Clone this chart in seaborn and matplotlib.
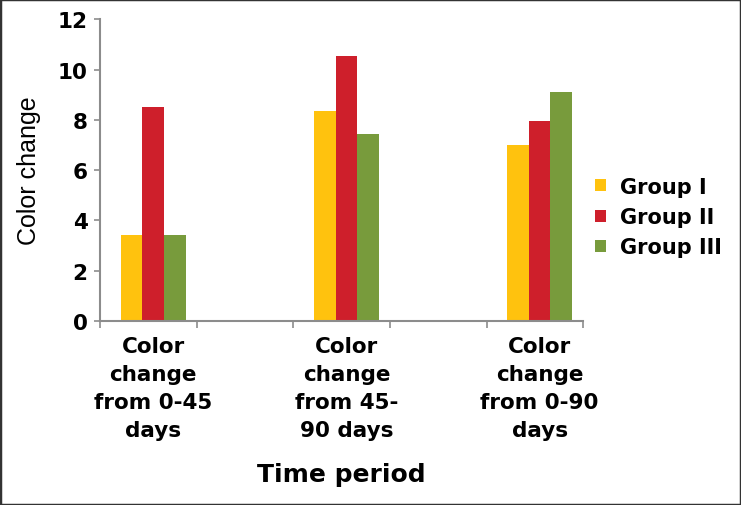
import numpy as np
import pandas as pd
import matplotlib
matplotlib.use("Agg")
import matplotlib.pyplot as plt
from matplotlib.patches import Rectangle
import seaborn as sns

# ── data ────────────────────────────────────────────────────
categories = [
    "Color\nchange\nfrom 0-45\ndays",
    "Color\nchange\nfrom 45-\n90 days",
    "Color\nchange\nfrom 0-90\ndays",
]
groups = ["Group I", "Group II", "Group III"]
group_i = [3.4, 8.35, 7.0]
group_ii = [8.5, 10.55, 7.95]
group_iii = [3.4, 7.45, 9.1]
y_ticks = [0, 2, 4, 6, 8, 10, 12]

YELLOW = "#FFC20E"
RED = "#CE1F2B"
GREEN = "#789B3C"
AXIS = "#8C8C8C"

df = pd.DataFrame({
    "period": categories * 3,
    "group": [g for g in groups for _ in categories],
    "value": group_i + group_ii + group_iii,
})

sns.set_style("white")
plt.rcParams["font.family"] = ["DejaVu Sans"]
plt.rcParams["text.color"] = "black"

fig = plt.figure(figsize=(7.41, 5.06), dpi=100)
ax = fig.add_axes([0.135, 0.364, 0.652, 0.596])

sns.barplot(data=df, x="period", y="value", hue="group", order=categories,
            hue_order=groups, palette=[YELLOW, RED, GREEN], width=0.335,
            saturation=1, ax=ax, linewidth=0, legend=True)

ax.set_ylim(0, 12)
ax.set_xlim(-0.275, 2.225)
ax.set_yticks(y_ticks)
ax.set_yticklabels([str(t) for t in y_ticks], fontsize=15.5, fontweight="bold",
                   color="black")
ax.set_xticks(range(len(categories)))
ax.set_xticklabels(categories, fontsize=15.5, fontweight="bold", linespacing=1.5,
                   color="black")
ax.set_xticks(np.arange(-0.275, 2.3, 0.5), minor=True)
ax.tick_params(axis="x", which="major", bottom=False, length=0, pad=11)
ax.tick_params(axis="x", which="minor", bottom=True, length=5, width=1.2,
               color=AXIS, direction="out")
ax.tick_params(axis="y", left=True, length=4, width=1.2, color=AXIS,
               direction="out", pad=5)

for side in ["top", "right"]:
    ax.spines[side].set_visible(False)
for side in ["left", "bottom"]:
    ax.spines[side].set_color(AXIS)
    ax.spines[side].set_linewidth(1.5)

ax.set_xlabel("Time period", fontsize=18, fontweight="bold", labelpad=16,
              color="black")
ax.set_ylabel("Color change", fontsize=18, family="Liberation Sans", labelpad=12,
              color="black")

handles, labels = ax.get_legend_handles_labels()
ax.get_legend().remove()
fig.legend(handles, labels, loc="center left", bbox_to_anchor=(0.778, 1 - 218 / 506),
           frameon=False, prop={"size": 15, "weight": "bold"},
           handlelength=0.5, handleheight=0.5, handletextpad=0.7, labelspacing=0.5)

fig.patches.append(Rectangle((0, 0), 1, 1, transform=fig.transFigure, fill=False,
                             edgecolor="#333333", linewidth=2.5))

fig.savefig("out.png", dpi=100)
